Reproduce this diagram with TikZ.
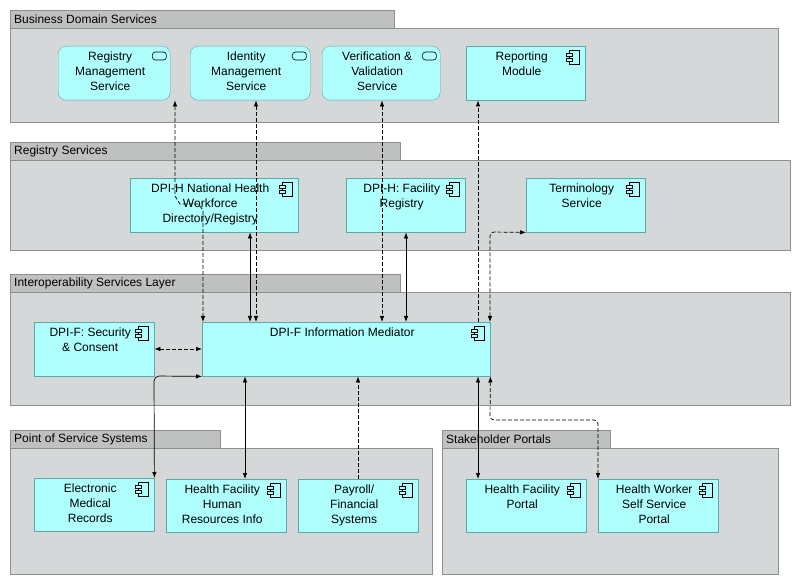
\documentclass[tikz,border=0pt]{standalone}
\usepackage{fontspec}
\setmainfont{Liberation Sans}
\usetikzlibrary{arrows.meta}
\definecolor{grpfill}{HTML}{D5D8D8}
\definecolor{tabfill}{HTML}{BFC1C1}
\definecolor{grpline}{HTML}{8E9090}
\definecolor{nfill}{HTML}{B0FFFF}
\definecolor{nline}{HTML}{5FA8A8}
\tikzset{
 grp/.style={draw=grpline,fill=grpfill},
 tab/.style={draw=grpline,fill=tabfill},
 tabtxt/.style={anchor=west,font=\fontsize{12}{14}\selectfont,inner sep=0pt},
 box/.style={draw=nline,fill=nfill,anchor=north west,inner sep=0pt},
 txt/.style={anchor=north,align=center,font=\fontsize{12}{15}\selectfont,inner sep=0pt},
 con/.style={{Latex[length=6pt,width=4.5pt]}-{Latex[length=6pt,width=4.5pt]},black,line width=0.7pt},
 one/.style={-{Latex[length=6pt,width=4.5pt]},black,line width=0.7pt},
 dsh/.style={dash pattern=on 4pt off 2pt},
}
\newcommand{\mybox}[7]{% name, x, y, w, h, text, type(c/s)
 \if#7s
 \node[box,rounded corners=8pt,minimum width=#4pt,minimum height=#5pt] (#1) at (#2,#3) {};
 \draw[line width=0.6pt,rounded corners=3pt] ([xshift=-18pt,yshift=-6pt]#1.north east) rectangle ([xshift=-4pt,yshift=-14pt]#1.north east);
 \else
 \node[box,minimum width=#4pt,minimum height=#5pt] (#1) at (#2,#3) {};
 \draw[line width=0.5pt] ([xshift=-16pt,yshift=-4pt]#1.north east) rectangle ([xshift=-6pt,yshift=-18pt]#1.north east);
 \draw[line width=0.5pt,fill=nfill] ([xshift=-19pt,yshift=-7pt]#1.north east) rectangle ([xshift=-13pt,yshift=-10pt]#1.north east);
 \draw[line width=0.5pt,fill=nfill] ([xshift=-19pt,yshift=-12pt]#1.north east) rectangle ([xshift=-13pt,yshift=-15pt]#1.north east);
 \fi
 \node[txt] at ([yshift=-6pt,xshift=-4pt]#1.north) {#6};
}
\begin{document}
\begin{tikzpicture}[x=1pt,y=-1pt]
\useasboundingbox (0,0) rectangle (801,585);
% groups
\draw[tab] (10,10) rectangle (394,28); \node[tabtxt] at (14,19) {Business Domain Services};
\draw[grp] (10,28) rectangle (778,122);
\draw[tab] (10,142) rectangle (400,160); \node[tabtxt] at (14,151) {Registry Services};
\draw[grp] (10,160) rectangle (790,250);
\draw[tab] (10,274) rectangle (400,292); \node[tabtxt] at (14,283) {Interoperability Services Layer};
\draw[grp] (10,292) rectangle (790,405);
\draw[tab] (10,430) rectangle (220,448); \node[tabtxt] at (14,439) {Point of Service Systems};
\draw[grp] (10,448) rectangle (432,574);
\draw[tab] (442,430) rectangle (610,448); \node[tabtxt] at (446,439) {Stakeholder Portals};
\draw[grp] (442,448) rectangle (778,574);
% nodes
\mybox{rms}{58}{46}{112}{54}{Registry\\Management\\Service}{s}
\mybox{ims}{190}{46}{120}{54}{Identity\\Management\\Service}{s}
\mybox{vvs}{322}{46}{118}{54}{Verification \&\\Validation\\Service}{s}
\mybox{rep}{466}{46}{119}{54}{Reporting\\Module}{c}
\mybox{nhw}{130}{178}{168}{54}{DPI-H National Health\\Workforce\\Directory/Registry}{c}
\mybox{fac}{346}{178}{119}{54}{DPI-H: Facility\\Registry}{c}
\mybox{ter}{526}{178}{119}{54}{Terminology\\Service}{c}
\mybox{sec}{34}{322}{120}{54}{DPI-F: Security\\\& Consent}{c}
\mybox{med}{202}{322}{288}{54}{DPI-F Information Mediator}{c}
\mybox{emr}{34}{478}{120}{53}{Electronic\\Medical\\Records}{c}
\mybox{hfh}{166}{479}{120}{53}{Health Facility\\Human\\Resources Info}{c}
\mybox{pay}{298}{479}{120}{53}{Payroll/\\Financial\\Systems}{c}
\mybox{hfp}{466}{479}{120}{53}{Health Facility\\Portal}{c}
\mybox{hwp}{598}{479}{120}{53}{Health Worker\\Self Service\\Portal}{c}
% connectors
\draw[con,dsh] (rms.south -| 175,0) -- (175,196) -- (180,204) -- (198,204) -- (203,210) -- (med.north -| 203,0);
\draw[con,dsh] (ims.south -| 256,0) -- (med.north -| 256,0);
\draw[con] (nhw.south -| 250,0) -- (med.north -| 250,0);
\draw[con,dsh] (vvs.south -| 382,0) -- (med.north -| 382,0);
\draw[con] (fac.south -| 406,0) -- (med.north -| 406,0);
\draw[one,dsh] (med.north -| 478,0) -- (rep.south -| 478,0);
\draw[con,dsh,rounded corners=4pt] (med.north -| 490,0) -- (490,232) -- (ter.south west);
\draw[con,dsh] (sec.east |- 0,349) -- (med.west |- 0,349);
\draw[con,rounded corners=5pt] (med.south west) -- (154,376) -- (emr.north east);
\draw[con] (med.south -| 245,0) -- (hfh.north -| 245,0);
\draw[one,dsh] (pay.north -| 358,0) -- (med.south -| 358,0);
\draw[con] (med.south -| 478,0) -- (hfp.north -| 478,0);
\draw[con,dsh,rounded corners=4pt] (med.south east) -- (490,420) -- (598,420) -- (hwp.north west);
\end{tikzpicture}
\end{document}
